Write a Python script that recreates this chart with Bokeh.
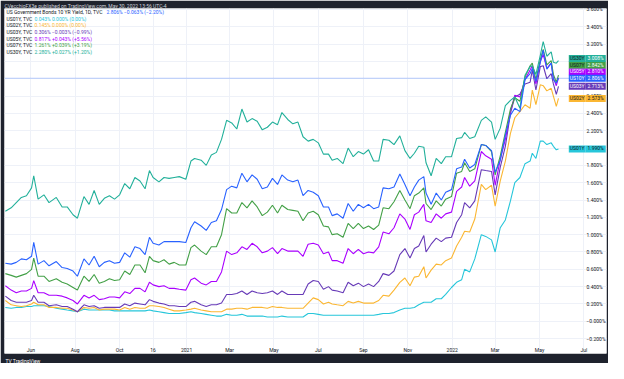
import pandas as pd
from bokeh.plotting import figure
from bokeh.models import Label, Span, FixedTicker, Range1d, PrintfTickFormatter, Title
from bokeh.embed import file_html
from bokeh.resources import INLINE

# ---------------- data ----------------
dates = [
    "2020-04-27", "2020-05-05", "2020-05-12", "2020-05-19", "2020-05-26", "2020-06-02", "2020-06-05", "2020-06-11",
    "2020-06-19", "2020-06-26", "2020-07-06", "2020-07-14", "2020-07-21", "2020-07-29", "2020-08-04", "2020-08-13",
    "2020-08-20", "2020-08-27", "2020-09-03", "2020-09-10", "2020-09-17", "2020-09-24", "2020-10-01", "2020-10-08",
    "2020-10-15", "2020-10-22", "2020-10-29", "2020-11-05", "2020-11-11", "2020-11-16", "2020-11-24", "2020-12-01",
    "2020-12-08", "2020-12-15", "2020-12-22", "2020-12-31",
    "2021-01-07", "2021-01-12", "2021-01-21", "2021-01-28", "2021-02-04", "2021-02-11", "2021-02-18", "2021-02-25",
    "2021-03-04", "2021-03-11", "2021-03-18", "2021-03-25", "2021-04-01", "2021-04-08", "2021-04-15", "2021-04-22",
    "2021-04-29", "2021-05-06", "2021-05-12", "2021-05-20", "2021-05-27", "2021-06-03", "2021-06-10", "2021-06-17",
    "2021-06-24", "2021-07-01", "2021-07-08", "2021-07-15", "2021-07-20", "2021-07-27", "2021-08-04", "2021-08-11",
    "2021-08-18", "2021-08-25", "2021-09-01", "2021-09-08", "2021-09-15", "2021-09-22", "2021-09-28", "2021-10-06",
    "2021-10-13", "2021-10-21", "2021-10-28", "2021-11-04", "2021-11-10", "2021-11-16", "2021-11-23", "2021-11-26",
    "2021-12-03", "2021-12-10", "2021-12-17", "2021-12-23", "2021-12-31",
    "2022-01-07", "2022-01-14", "2022-01-18", "2022-01-25", "2022-02-01", "2022-02-10", "2022-02-16", "2022-02-24",
    "2022-03-01", "2022-03-08", "2022-03-15", "2022-03-22", "2022-03-28", "2022-04-04", "2022-04-11", "2022-04-18",
    "2022-04-21", "2022-04-26", "2022-05-02", "2022-05-06", "2022-05-11", "2022-05-17", "2022-05-20", "2022-05-24",
    "2022-05-27",
]

us01y = [
    0.16, 0.15, 0.16, 0.16, 0.17, 0.17, 0.18, 0.18, 0.18, 0.17, 0.15, 0.14, 0.13, 0.12, 0.11, 0.14, 0.13, 0.13,
    0.13, 0.13, 0.13, 0.12, 0.12, 0.12, 0.12, 0.12, 0.12, 0.12, 0.13, 0.12, 0.11, 0.10, 0.09, 0.09, 0.09, 0.10,
    0.11, 0.10, 0.09, 0.08, 0.07, 0.06, 0.06, 0.08, 0.07, 0.07, 0.08, 0.06, 0.06, 0.06, 0.06, 0.05, 0.05, 0.05,
    0.06, 0.05, 0.05, 0.05, 0.05, 0.09, 0.09, 0.08, 0.07, 0.07, 0.07, 0.07, 0.07, 0.07, 0.07, 0.07, 0.07, 0.07,
    0.07, 0.08, 0.09, 0.09, 0.10, 0.13, 0.15, 0.15, 0.16, 0.19, 0.22, 0.22, 0.22, 0.26, 0.26, 0.31, 0.39,
    0.45, 0.48, 0.60, 0.57, 0.72, 1.00, 0.98, 0.94, 0.80, 1.08, 1.17, 1.39, 1.60, 1.66, 1.82, 1.85, 1.94, 1.88,
    2.08, 2.08, 2.04, 2.06, 2.02, 1.98, 1.990,
]
us02y = [
    0.24, 0.19, 0.18, 0.17, 0.18, 0.20, 0.22, 0.19, 0.19, 0.16, 0.16, 0.15, 0.15, 0.13, 0.11, 0.16, 0.15, 0.16,
    0.13, 0.14, 0.14, 0.14, 0.13, 0.16, 0.14, 0.16, 0.15, 0.15, 0.18, 0.18, 0.17, 0.16, 0.14, 0.12, 0.12, 0.13,
    0.14, 0.15, 0.13, 0.12, 0.11, 0.11, 0.11, 0.14, 0.14, 0.15, 0.15, 0.14, 0.16, 0.16, 0.16, 0.15, 0.17, 0.16,
    0.16, 0.15, 0.15, 0.15, 0.15, 0.21, 0.27, 0.25, 0.20, 0.22, 0.20, 0.19, 0.18, 0.23, 0.21, 0.23, 0.21, 0.21,
    0.21, 0.24, 0.30, 0.29, 0.36, 0.45, 0.50, 0.41, 0.51, 0.52, 0.63, 0.50, 0.59, 0.66, 0.65, 0.70, 0.73,
    0.87, 0.97, 1.04, 1.03, 1.18, 1.58, 1.52, 1.57, 1.33, 1.62, 1.85, 2.17, 2.35, 2.42, 2.50, 2.46, 2.67, 2.50,
    2.73, 2.72, 2.66, 2.69, 2.60, 2.48, 2.573,
]
us03y = [
    0.29, 0.24, 0.22, 0.22, 0.22, 0.24, 0.30, 0.22, 0.22, 0.18, 0.19, 0.17, 0.17, 0.14, 0.11, 0.19, 0.17, 0.18,
    0.15, 0.16, 0.16, 0.16, 0.16, 0.20, 0.18, 0.21, 0.20, 0.19, 0.25, 0.23, 0.21, 0.20, 0.18, 0.18, 0.17, 0.17,
    0.22, 0.23, 0.19, 0.17, 0.19, 0.19, 0.21, 0.31, 0.31, 0.32, 0.35, 0.31, 0.35, 0.33, 0.32, 0.33, 0.35, 0.31,
    0.35, 0.31, 0.31, 0.31, 0.31, 0.43, 0.47, 0.46, 0.37, 0.40, 0.36, 0.35, 0.33, 0.45, 0.41, 0.44, 0.40, 0.43,
    0.40, 0.46, 0.55, 0.53, 0.58, 0.77, 0.84, 0.73, 0.84, 0.87, 0.99, 0.80, 0.89, 0.96, 0.92, 0.96, 0.97,
    1.14, 1.23, 1.37, 1.31, 1.39, 1.75, 1.74, 1.73, 1.46, 1.78, 2.02, 2.40, 2.59, 2.62, 2.74, 2.76, 2.90, 2.67,
    2.94, 2.95, 2.80, 2.86, 2.74, 2.62, 2.713,
]
us05y = [
    0.41, 0.36, 0.33, 0.35, 0.35, 0.38, 0.47, 0.33, 0.33, 0.30, 0.30, 0.29, 0.27, 0.24, 0.20, 0.30, 0.27, 0.30,
    0.25, 0.26, 0.28, 0.28, 0.27, 0.34, 0.32, 0.38, 0.38, 0.34, 0.45, 0.42, 0.40, 0.41, 0.38, 0.38, 0.37, 0.36,
    0.48, 0.50, 0.44, 0.42, 0.46, 0.46, 0.57, 0.81, 0.77, 0.79, 0.86, 0.83, 0.90, 0.86, 0.79, 0.81, 0.85, 0.78,
    0.84, 0.81, 0.81, 0.81, 0.75, 0.89, 0.90, 0.88, 0.78, 0.80, 0.70, 0.70, 0.67, 0.84, 0.78, 0.83, 0.78, 0.80,
    0.79, 0.86, 1.03, 1.01, 1.08, 1.24, 1.18, 1.06, 1.23, 1.26, 1.35, 1.16, 1.14, 1.24, 1.19, 1.24, 1.26,
    1.50, 1.55, 1.66, 1.56, 1.62, 1.96, 1.91, 1.87, 1.57, 1.87, 2.10, 2.42, 2.61, 2.59, 2.79, 2.90, 2.95, 2.74,
    3.00, 3.08, 2.92, 2.98, 2.81, 2.72, 2.810,
]
us07y = [
    0.55, 0.53, 0.51, 0.53, 0.55, 0.60, 0.73, 0.52, 0.52, 0.46, 0.49, 0.45, 0.43, 0.39, 0.36, 0.52, 0.46, 0.54,
    0.44, 0.46, 0.49, 0.47, 0.48, 0.58, 0.54, 0.65, 0.65, 0.56, 0.75, 0.70, 0.68, 0.71, 0.66, 0.68, 0.65, 0.65,
    0.85, 0.88, 0.81, 0.77, 0.86, 0.86, 1.00, 1.30, 1.25, 1.25, 1.37, 1.31, 1.39, 1.32, 1.22, 1.26, 1.34, 1.25,
    1.34, 1.29, 1.28, 1.27, 1.16, 1.25, 1.27, 1.23, 1.10, 1.09, 1.00, 1.01, 0.97, 1.13, 1.07, 1.13, 1.07, 1.10,
    1.06, 1.11, 1.31, 1.30, 1.38, 1.51, 1.40, 1.30, 1.45, 1.48, 1.54, 1.36, 1.29, 1.39, 1.33, 1.41, 1.44,
    1.71, 1.73, 1.83, 1.73, 1.76, 2.04, 2.03, 1.96, 1.69, 1.91, 2.18, 2.45, 2.58, 2.54, 2.82, 2.95, 2.98, 2.79,
    3.02, 3.14, 2.96, 3.01, 2.85, 2.76, 2.842,
]
us10y = [
    0.67, 0.66, 0.68, 0.72, 0.71, 0.75, 0.91, 0.66, 0.70, 0.64, 0.69, 0.62, 0.61, 0.58, 0.52, 0.72, 0.65, 0.75,
    0.63, 0.68, 0.70, 0.67, 0.68, 0.79, 0.74, 0.86, 0.84, 0.77, 0.97, 0.90, 0.88, 0.92, 0.92, 0.92, 0.92, 0.91,
    1.08, 1.15, 1.10, 1.05, 1.14, 1.16, 1.29, 1.52, 1.56, 1.54, 1.71, 1.61, 1.69, 1.64, 1.53, 1.55, 1.65, 1.58,
    1.69, 1.63, 1.61, 1.63, 1.45, 1.51, 1.49, 1.45, 1.32, 1.32, 1.22, 1.24, 1.19, 1.36, 1.27, 1.35, 1.31, 1.35,
    1.30, 1.32, 1.54, 1.53, 1.55, 1.70, 1.58, 1.45, 1.55, 1.63, 1.67, 1.48, 1.35, 1.48, 1.40, 1.49, 1.52,
    1.76, 1.78, 1.87, 1.77, 1.81, 2.04, 2.03, 1.97, 1.72, 1.86, 2.15, 2.38, 2.46, 2.42, 2.79, 2.86, 2.92, 2.77,
    2.99, 3.13, 2.91, 2.98, 2.79, 2.75, 2.806,
]
us30y = [
    1.27, 1.31, 1.37, 1.43, 1.45, 1.54, 1.68, 1.41, 1.46, 1.37, 1.43, 1.32, 1.32, 1.23, 1.19, 1.44, 1.35, 1.51,
    1.35, 1.42, 1.45, 1.41, 1.46, 1.59, 1.53, 1.66, 1.62, 1.53, 1.74, 1.66, 1.61, 1.66, 1.65, 1.66, 1.67, 1.64,
    1.85, 1.88, 1.86, 1.80, 1.92, 1.95, 2.10, 2.32, 2.29, 2.22, 2.45, 2.30, 2.34, 2.31, 2.21, 2.24, 2.30, 2.27,
    2.41, 2.33, 2.28, 2.30, 2.13, 2.08, 2.10, 2.06, 1.93, 1.93, 1.86, 1.88, 1.82, 2.00, 1.90, 1.96, 1.93, 1.98,
    1.85, 1.85, 2.10, 2.09, 2.04, 2.14, 1.97, 1.88, 1.94, 2.02, 2.01, 1.83, 1.68, 1.88, 1.82, 1.90, 1.90,
    2.11, 2.12, 2.18, 2.11, 2.13, 2.32, 2.36, 2.30, 2.10, 2.23, 2.49, 2.55, 2.59, 2.46, 2.84, 2.94, 2.95, 2.85,
    3.07, 3.23, 3.06, 3.11, 2.99, 2.98, 3.008,
]

x_tick_dates = ["2020-06-01", "2020-08-01", "2020-10-01", "2020-11-16", "2021-01-01", "2021-03-01", "2021-05-01",
                "2021-07-01", "2021-09-01", "2021-11-01", "2022-01-01", "2022-03-01", "2022-05-01", "2022-07-01"]
x_tick_labels = ["Jun", "Aug", "Oct", "16", "2021", "Mar", "May", "Jul", "Sep", "Nov", "2022", "Mar", "May", "Jul"]
y_ticks = [round(-0.2 + 0.2 * i, 1) for i in range(20)]

legend_main = ["US Government Bonds 10 YR Yield, 1D, TVC", "2.806%", "\u22120.063% (\u22122.20%)"]
legend_rows = [
    ["US01Y, TVC", "0.043%", "0.000% (0.00%)"],
    ["US02Y, TVC", "0.145%", "0.000% (0.00%)"],
    ["US03Y, TVC", "0.306%", "\u22120.003% (\u22120.99%)"],
    ["US05Y, TVC", "0.817%", "+0.043% (+5.56%)"],
    ["US07Y, TVC", "1.261%", "+0.039% (+3.19%)"],
    ["US30Y, TVC", "2.280%", "+0.027% (+1.20%)"],
]
header_text = "CVecchioFX3e published on TradingView.com, May 30, 2022 13:56 UTC-4"
footer_text = "TV TradingView"

# ---------------- style / layout ----------------
FONT = "Roboto"
DARK = "#1e222d"
TXT = "#131722"
C01, C02, C03, C05, C07, C10, C30 = "#26c6da", "#fbb733", "#673ab7", "#aa00ff", "#43a047", "#2962ff", "#22b09a"

W, H = 608, 363
LEFT, TOP, BOT = 4, 8, 7            # dark frame strips (figure border)
FRAME_W = W - LEFT                  # white area: pane + price scale
FRAME_H = H - TOP - BOT             # white area: pane + time scale

# mapping of the reference picture onto this figure
SX, SY = 583 / 592, 0.9912
def mx(x_ref):
    return LEFT + (x_ref - 5) * SX
def my(y_ref):
    return TOP + (y_ref - 12) * SY

K = 0.011345          # % per reference pixel (price scale)
ZERO_Y = 330.3        # reference y of 0 %
y_end = (ZERO_Y - 12) * K
y_start = (ZERO_Y - (12 + FRAME_H / SY)) * K

PX_DAY = 0.7415       # reference pixels per calendar day
JAN21_X = 190.5       # reference x of 1 Jan 2021
jan21 = pd.Timestamp("2021-01-01")
x_start = jan21 + pd.Timedelta(days=(5 - JAN21_X) / PX_DAY)
x_end = jan21 + pd.Timedelta(days=(5 + FRAME_W / SX - JAN21_X) / PX_DAY)

xs = pd.to_datetime(dates)

p = figure(width=W, height=H, x_axis_type="datetime", y_axis_location="right",
           x_range=Range1d(x_start, x_end), y_range=Range1d(y_start, y_end),
           output_backend="svg", toolbar_location=None,
           min_border_left=LEFT, min_border_right=0, min_border_top=TOP, min_border_bottom=BOT,
           background_fill_color="white", border_fill_color=DARK, outline_line_color=None)

p.title.text = header_text
p.title.text_font = FONT
p.title.text_font_size = "5px"
p.title.text_font_style = "normal"
p.title.text_color = "#d1d4dc"
p.title.standoff = 0
p.title.offset = 0
p.title.align = "left"
p.add_layout(Title(text=footer_text, text_font=FONT, text_font_size="5px", text_font_style="normal",
                   text_color="#ffffff", align="left", offset=1, standoff=0), "below")

xticks = [pd.Timestamp(d).value / 1e6 for d in x_tick_dates]
xt = FixedTicker(ticks=xticks)
xa = p.xaxis[0]
xa.ticker = xt
xa.major_label_overrides = {t: l for t, l in zip(xticks, x_tick_labels)}
ya = p.yaxis[0]
yt = FixedTicker(ticks=y_ticks)
ya.ticker = yt
ya.formatter = PrintfTickFormatter(format="%.3f%%")
ya.major_label_overrides = {0.0: "\u22120.000%", -0.2: "\u22120.200%"}
for ax in (xa, ya):
    ax.axis_line_color = None
    ax.major_tick_line_color = None
    ax.minor_tick_line_color = None
    ax.major_tick_out = 0
    ax.major_tick_in = 0
    ax.minor_tick_out = 0
    ax.major_label_text_font = FONT
    ax.major_label_text_font_size = "5px"
    ax.major_label_text_color = TXT
# time and price scale labels sit inside the white area, like TradingView's scales
xa.major_label_standoff = -7
ya.major_label_standoff = round(mx(598) - W)

p.xgrid.ticker = xt
p.ygrid.ticker = yt
p.xgrid.grid_line_color = "#eef1f8"
p.ygrid.grid_line_color = "#eef1f8"

p.add_layout(Span(location=us10y[-1], dimension="width", line_color=C10, line_alpha=0.3, line_width=1))

series = [("US01Y", us01y, C01), ("US02Y", us02y, C02), ("US03Y", us03y, C03), ("US05Y", us05y, C05),
          ("US07Y", us07y, C07), ("US30Y", us30y, C30), ("US10Y", us10y, C10)]
for name, vals, col in series:
    p.line(xs, vals, line_color=col, line_width=1.1)

# ---------------- price tags (collision-avoided like TradingView) ----------------
TAG_H = 6.7 * K
main_v = us10y[-1]
pos = {"US10Y": main_v}
others = [(n, v[-1]) for n, v, c in series if n != "US10Y"]
prev = main_v
for n, v in sorted([o for o in others if o[1] >= main_v], key=lambda o: o[1]):
    prev = max(v, prev + TAG_H)
    pos[n] = prev
prev = main_v
for n, v in sorted([o for o in others if o[1] < main_v], key=lambda o: -o[1]):
    prev = min(v, prev - TAG_H)
    pos[n] = prev

NAME_X = mx(578) - LEFT
VAL_X = mx(595) - LEFT
dark_txt = {"US01Y", "US02Y", "US07Y", "US30Y"}
for n, vals, col in series:
    tc = TXT if n in dark_txt else "white"
    p.add_layout(Label(x=NAME_X, y=pos[n], x_units="screen", text=n, text_font=FONT,
                       text_font_size="5px", text_color=tc, text_baseline="middle", text_align="left",
                       background_fill_color=col, padding=dict(left=1, right=1, top=0, bottom=1)))
    vc = TXT if n in ("US01Y", "US02Y") else "white"
    p.add_layout(Label(x=VAL_X, y=pos[n], x_units="screen", text=f"{vals[-1]:.3f}%", text_font=FONT,
                       text_font_size="5px", text_color=vc, text_baseline="middle", text_align="left",
                       background_fill_color=col, padding=dict(left=2, right=2, top=0, bottom=1)))

# ---------------- legend (top-left) ----------------
def sy(y_ref):
    return FRAME_H - (my(y_ref) - TOP)

LEG_Y0, LEG_DY = 18.5, 6.7
p.add_layout(Label(x=2, y=sy(LEG_Y0), x_units="screen", y_units="screen", text=legend_main[0], text_font=FONT,
                   text_font_size="5px", text_color=TXT, text_baseline="middle"))
p.add_layout(Label(x=102, y=sy(LEG_Y0), x_units="screen", y_units="screen",
                   text=legend_main[1] + "  " + legend_main[2],
                   text_font=FONT, text_font_size="5px", text_color=C10, text_baseline="middle"))
row_cols = [C01, C02, C03, C05, C07, C30]
for i, (row, col) in enumerate(zip(legend_rows, row_cols)):
    yy = sy(LEG_Y0 + LEG_DY * (i + 1))
    p.add_layout(Label(x=2, y=yy, x_units="screen", y_units="screen", text=row[0], text_font=FONT,
                       text_font_size="5px", text_color=TXT, text_baseline="middle"))
    p.add_layout(Label(x=30, y=yy, x_units="screen", y_units="screen", text=row[1] + "  " + row[2],
                       text_font=FONT, text_font_size="5px", text_color=col, text_baseline="middle"))

open("out.html", "w").write(file_html(p, INLINE, title="US Government Bonds 10 YR Yield"))
